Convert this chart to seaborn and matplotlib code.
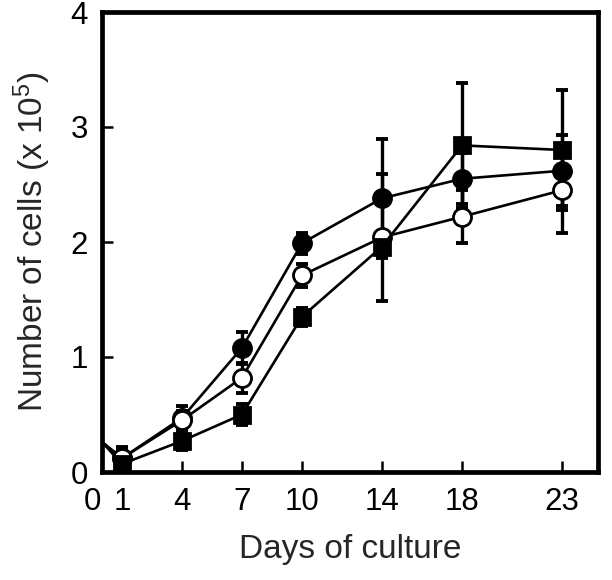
import numpy as np
import pandas as pd
import matplotlib
matplotlib.use("Agg")
import matplotlib.pyplot as plt
import seaborn as sns
from matplotlib.transforms import ScaledTranslation

# ---- data ----
days = [0, 1, 4, 7, 10, 14, 18, 23]
filled_mean = [0.26, 0.12, 0.47, 1.08, 1.99, 2.38, 2.55, 2.62]
filled_err = [0.0, 0.10, 0.10, 0.14, 0.09, 0.52, 0.22, 0.31]
open_mean = [0.26, 0.12, 0.45, 0.82, 1.71, 2.04, 2.22, 2.45]
open_err = [0.0, 0.08, 0.08, 0.13, 0.10, 0.55, 0.23, 0.37]
square_mean = [0.26, 0.07, 0.27, 0.50, 1.35, 1.96, 2.84, 2.80]
square_err = [0.0, 0.07, 0.08, 0.09, 0.08, 0.09, 0.54, 0.52]

xtick_vals = [0, 1, 4, 7, 10, 14, 18, 23]
xtick_labels = ["0", "1", "4", "7", "10", "14", "18", "23"]
ytick_vals = [0, 1, 2, 3, 4]
ytick_labels = ["0", "1", "2", "3", "4"]

sns.set_style("ticks")
plt.rcParams["font.family"] = ["Liberation Sans", "DejaVu Sans"]
plt.rcParams["mathtext.fontset"] = "custom"
plt.rcParams["mathtext.rm"] = "Liberation Sans"
plt.rcParams["mathtext.it"] = "Liberation Sans"

fig = plt.figure(figsize=(6.12, 5.8), dpi=100)
ax = fig.add_axes([102 / 612, 1 - 472 / 580, (598 - 102) / 612, (472 - 12) / 580])

series = [
    ("filled", filled_mean, filled_err, "o", "black", 13),
    ("open", open_mean, open_err, "o", "white", 13),
    ("square", square_mean, square_err, "s", "black", 11),
]

for name, mean, err, mk, fc, ms in series:
    df = pd.DataFrame({"day": days, "cells": mean})
    # error bars (skip the day-0 starting point)
    ax.errorbar(days[1:], mean[1:], yerr=err[1:], fmt="none", ecolor="black",
                elinewidth=2.4, capsize=4.5, capthick=2.8, zorder=2)
    sns.lineplot(data=df, x="day", y="cells", ax=ax, color="black", lw=1.9,
                 marker=mk, markersize=ms, markerfacecolor=fc,
                 markeredgecolor="black", markeredgewidth=2.0,
                 markevery=slice(1, None), zorder=3, clip_on=True)

ax.set_xlim(0, 24.8)
ax.set_ylim(0, 4)
ax.set_xticks(xtick_vals)
ax.set_xticklabels(xtick_labels)
ax.set_yticks(ytick_vals)
ax.set_yticklabels(ytick_labels)

for s in ax.spines.values():
    s.set_visible(True)
    s.set_linewidth(3.4)
    s.set_color("black")

ax.tick_params(axis="both", direction="in", length=8, width=1.8,
               labelsize=22.5, colors="black")
ax.tick_params(axis="x", pad=11)
ax.tick_params(axis="y", pad=10)

# nudge the "0" x tick label left as in the reference
lab0 = ax.get_xticklabels()[0]
lab0.set_transform(lab0.get_transform() + ScaledTranslation(-10 / 100, 0, fig.dpi_scale_trans))

ax.set_xlabel("Days of culture", fontsize=24, labelpad=12)
ax.set_ylabel(r"Number of cells (x 10$^5$)", fontsize=24, labelpad=13)
ax.grid(False)

fig.savefig("out.png", dpi=100)
